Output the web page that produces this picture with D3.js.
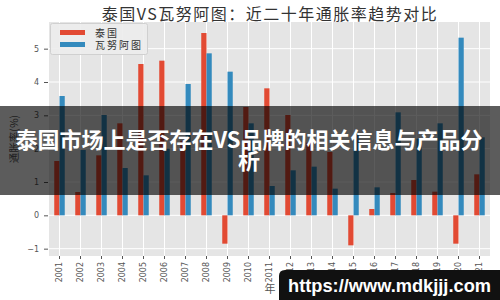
<!DOCTYPE html>
<html>
<head>
<meta charset="utf-8">
<script src="https://cdn.jsdelivr.net/npm/d3@7"></script>
<style>
  body { margin: 0; background: #fff; }
  svg { display: block; }
</style>
</head>
<body>
<div id="chart"></div>
<script>
// data (annual inflation, %)
var years = ["2001","2002","2003","2004","2005","2006","2007","2008","2009","2010","2011",
             "2012","2013","2014","2015","2016","2017","2018","2019","2020","2021"];
var thailand = [1.63, 0.70, 1.80, 2.76, 4.54, 4.64, 2.24, 5.47, -0.85, 3.25, 3.81,
                3.01, 2.18, 1.90, -0.90, 0.19, 0.67, 1.06, 0.71, -0.85, 1.23];
var vanuatu  = [3.58, 1.96, 3.01, 1.42, 1.20, 2.00, 3.94, 4.86, 4.31, 2.76, 0.88,
                1.35, 1.46, 0.80, 2.45, 0.84, 3.09, 2.30, 2.76, 5.33, 2.34];
var seriesNames = ["泰国", "瓦努阿图"];
var yTicks = [-1, 0, 1, 2, 3, 4, 5];

var W = 500, H = 300;
// plot box (don't call these top/left: window.top is read-only)
var pL = 49, pR = 490, pT = 22, pB = 256;

var svg = d3.select("#chart").append("svg")
    .attr("width", W).attr("height", H);

var x = d3.scaleBand().domain(years).range([pL, pR]).padding(0);
var y = d3.scaleLinear().domain([-1.22, 5.8]).range([pB, pT]);
var color = d3.scaleOrdinal().domain(seriesNames).range(["#E24A33", "#348ABD"]);

// plot background
svg.append("rect")
    .attr("x", pL).attr("y", pT)
    .attr("width", pR - pL).attr("height", pB - pT)
    .attr("fill", "#E5E5E5");

// grid
var g = svg.append("g");
g.selectAll("line.hg").data(yTicks).enter().append("line")
    .attr("x1", pL).attr("x2", pR)
    .attr("y1", function(d){ return y(d); }).attr("y2", function(d){ return y(d); })
    .attr("stroke", "#fff").attr("stroke-width", 1);
g.selectAll("line.vg").data(years).enter().append("line")
    .attr("y1", pT).attr("y2", pB)
    .attr("x1", function(d){ return x(d) + x.bandwidth()/2; })
    .attr("x2", function(d){ return x(d) + x.bandwidth()/2; })
    .attr("stroke", "#fff").attr("stroke-width", 1);

// bars
var bw = x.bandwidth() * 0.25;
var rows = years.map(function(yr, i){ return {year: yr, a: thailand[i], b: vanuatu[i]}; });

svg.append("g").selectAll("rect").data(rows).enter().append("rect")
    .attr("x", function(d){ return x(d.year) + x.bandwidth()/2 - bw; })
    .attr("y", function(d){ return y(Math.max(0, d.a)); })
    .attr("width", bw)
    .attr("height", function(d){ return Math.abs(y(d.a) - y(0)); })
    .attr("fill", color(seriesNames[0]));

svg.append("g").selectAll("rect").data(rows).enter().append("rect")
    .attr("x", function(d){ return x(d.year) + x.bandwidth()/2; })
    .attr("y", function(d){ return y(Math.max(0, d.b)); })
    .attr("width", bw)
    .attr("height", function(d){ return Math.abs(y(d.b) - y(0)); })
    .attr("fill", color(seriesNames[1]));

// axes
var yAxis = svg.append("g")
    .attr("transform", "translate(" + (pL - 1) + ",0)")
    .call(d3.axisLeft(y).tickValues(yTicks).tickSize(4).tickPadding(5)
        .tickFormat(function(d){ return d < 0 ? "\u2212" + Math.abs(d) : d; }));
yAxis.select(".domain").remove();
yAxis.selectAll("line").attr("stroke", "#555");
yAxis.selectAll("text").attr("fill", "#555")
    .style("font-family", "DejaVu Sans").style("font-size", "8px");

var xAxis = svg.append("g")
    .attr("transform", "translate(0," + pB + ")")
    .call(d3.axisBottom(x).tickSize(3).tickPadding(4));
xAxis.select(".domain").remove();
xAxis.selectAll("line").attr("stroke", "#555");
xAxis.selectAll("text")
    .attr("fill", "#555")
    .style("font-family", "DejaVu Sans").style("font-size", "8px")
    .attr("transform", "rotate(-90)")
    .attr("text-anchor", "end")
    .attr("x", -6).attr("y", 0).attr("dy", "0.32em");

// axis labels
svg.append("text")
    .attr("transform", "translate(13,139) rotate(-90)")
    .attr("text-anchor", "middle").attr("dominant-baseline", "central")
    .attr("fill", "#555")
    .style("font-family", "Noto Sans CJK SC").style("font-size", "10.5px")
    .text("通胀率(%)");

svg.append("text")
    .attr("x", 270).attr("y", 288)
    .attr("text-anchor", "middle").attr("dominant-baseline", "central")
    .attr("fill", "#555")
    .style("font-family", "Noto Sans CJK SC").style("font-size", "11px")
    .text("年");

// title
svg.append("text")
    .attr("x", 270).attr("y", 12.5)
    .attr("text-anchor", "middle").attr("dominant-baseline", "central")
    .attr("fill", "#333")
    .style("font-family", "Noto Sans CJK SC").style("font-size", "16px")
    .style("letter-spacing", "1.5px")
    .text("泰国VS瓦努阿图：近二十年通胀率趋势对比");

// legend
var lg = svg.append("g");
lg.append("rect")
    .attr("x", 50.5).attr("y", 23.5).attr("width", 97).attr("height", 31)
    .attr("rx", 2)
    .attr("fill", "#ececec").attr("fill-opacity", 0.9)
    .attr("stroke", "#d0d0d0");
seriesNames.forEach(function(name, i){
    lg.append("rect")
        .attr("x", 60).attr("y", 30 + i * 12)
        .attr("width", 25).attr("height", 5)
        .attr("fill", color(name));
    lg.append("text")
        .attr("x", 95).attr("y", 32.5 + i * 12)
        .attr("dominant-baseline", "central")
        .attr("fill", "#333")
        .style("font-family", "Noto Sans CJK SC").style("font-size", "10px")
        .style("letter-spacing", "2px")
        .text(name);
});

// overlay banner
svg.append("rect")
    .attr("x", 0).attr("y", 106).attr("width", W).attr("height", 89)
    .attr("fill", "#000").attr("fill-opacity", 0.64);
var bannerLines = ["泰国市场上是否存在VS品牌的相关信息与产品分", "析"];
svg.append("g").selectAll("text").data(bannerLines).enter().append("text")
    .attr("x", 249)
    .attr("y", function(d, i){ return 137.5 + i * 21.5; })
    .attr("text-anchor", "middle").attr("dominant-baseline", "central")
    .attr("fill", "#fff")
    .style("font-family", "Noto Sans CJK SC").style("font-size", "22px")
    .style("font-weight", "bold")
    .text(function(d){ return d; });

// watermark
svg.append("path")
    .attr("d", "M500,270 L285,270 Q279,270 279,276 L279,300 L500,300 Z")
    .attr("fill", "#111");
svg.append("text")
    .attr("x", 288).attr("y", 292)
    .attr("fill", "#fff")
    .attr("textLength", 203).attr("lengthAdjust", "spacingAndGlyphs")
    .style("font-family", "Liberation Sans").style("font-size", "18px")
    .style("font-weight", "bold")
    .text("https://www.mdkjjj.com");
</script>
</body>
</html>
